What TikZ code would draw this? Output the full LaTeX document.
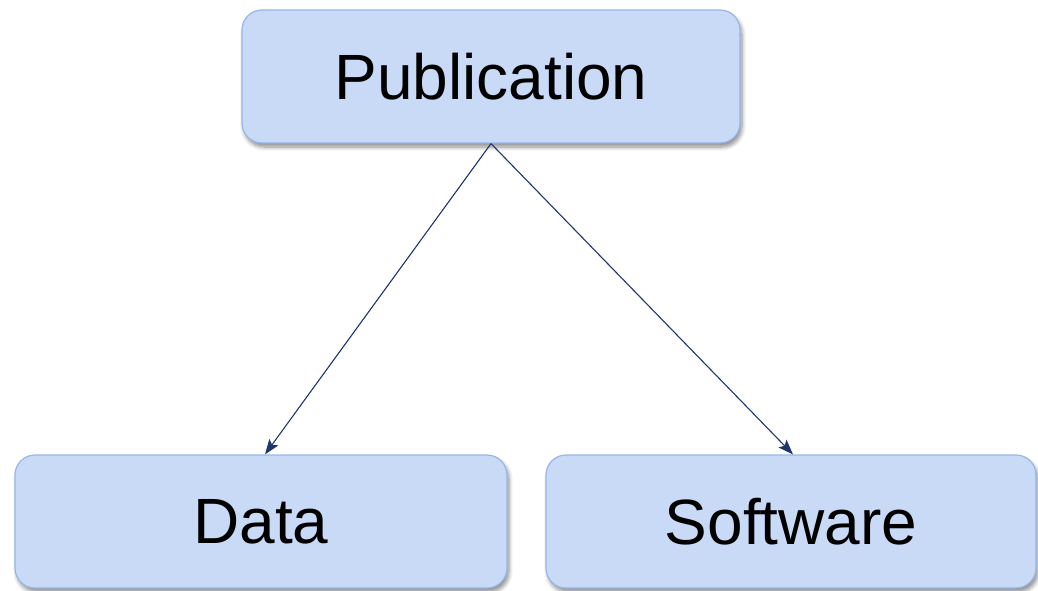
\documentclass[tikz,border=0pt]{standalone}
\usepackage{fontspec}
\setmainfont{Liberation Sans}
\usetikzlibrary{arrows.meta,shadows.blur}
\definecolor{boxfill}{RGB}{201,218,247}
\definecolor{boxline}{RGB}{150,182,232}
\definecolor{linkcol}{RGB}{32,52,110}
\tikzset{
  item/.style={rectangle, rounded corners=20pt, draw=boxline, line width=1.2pt,
    fill=boxfill, minimum height=133pt, inner sep=0pt,
    blur shadow={shadow xshift=2pt, shadow yshift=-4pt, shadow blur steps=6,
      shadow blur radius=4pt, shadow opacity=45},
    font=\fontsize{64}{72}\selectfont},
  link/.style={draw=linkcol, line width=1.1pt,
    -{Stealth[length=15pt, width=11pt, inset=3pt]}}
}
\begin{document}
\begin{tikzpicture}[x=1pt,y=-1pt]
  \useasboundingbox (0,0) rectangle (1038,591);
  \node[item, minimum width=498pt] (pub) at (491,76.5) {Publication};
  \node[item, minimum width=492pt] (data) at (261,521.5) {Data};
  \node[item, minimum width=490pt] (soft) at (791,521.5) {Software};
  \draw[link] (pub.south) -- ([xshift=4pt]data.north);
  \draw[link] (pub.south) -- ([xshift=2pt]soft.north);
\end{tikzpicture}
\end{document}
